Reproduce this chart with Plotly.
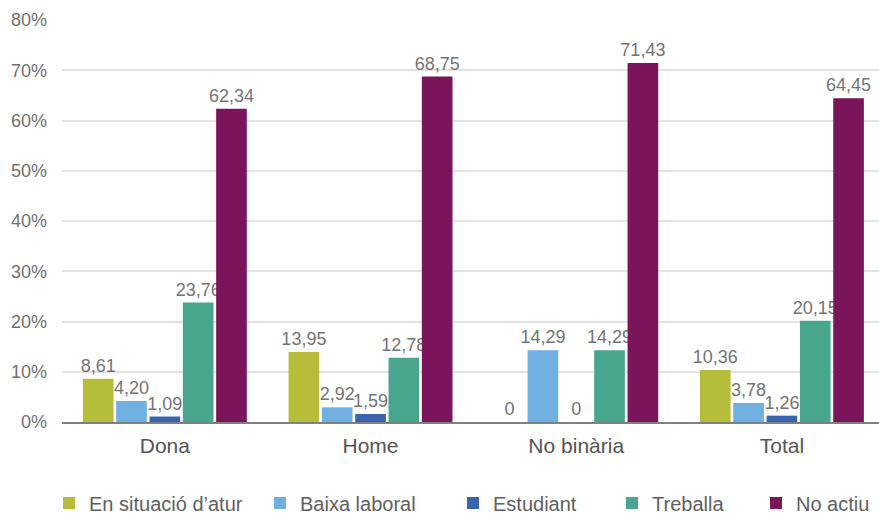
import plotly.graph_objects as go

categories = ["Dona", "Home", "No binària", "Total"]
series_names = ["En situació d’atur", "Baixa laboral", "Estudiant", "Treballa", "No actiu"]
atur = [8.61, 13.95, 0, 10.36]
baixa = [4.20, 2.92, 14.29, 3.78]
estudiant = [1.09, 1.59, 0, 1.26]
treballa = [23.76, 12.78, 14.29, 20.15]
no_actiu = [62.34, 68.75, 71.43, 64.45]
y_ticks = [0, 10, 20, 30, 40, 50, 60, 70, 80]

colors = ["#b5bd3a", "#70b0e0", "#3a62ad", "#48a68f", "#7a155c"]
series_values = [atur, baixa, estudiant, treballa, no_actiu]

W, H = 879, 515
# left edge of each legend entry (px), one legend per series
legend_left_px = [49, 260, 453, 612, 756]
legend_ids = ["legend", "legend2", "legend3", "legend4", "legend5"]


def fmt(v):
    return "0" if v == 0 else f"{v:.2f}".replace(".", ",")


fig = go.Figure()
for name, vals, col, lid in zip(series_names, series_values, colors, legend_ids):
    fig.add_trace(go.Bar(
        name=name,
        x=categories,
        y=vals,
        marker=dict(color=col, line=dict(width=0)),
        text=[fmt(v) for v in vals],
        textposition="outside",
        textfont=dict(family="Liberation Sans", size=18, color="#747474"),
        constraintext="none",
        cliponaxis=False,
        legend=lid,
    ))

legend_common = dict(
    orientation="h",
    xref="container",
    yref="container",
    xanchor="left",
    yanchor="middle",
    y=(H - 503) / H,
    font=dict(size=20, color="#606060"),
    itemsizing="constant",
    itemwidth=30,
    bgcolor="rgba(0,0,0,0)",
)

layout_legends = {
    lid: dict(legend_common, x=px / W) for lid, px in zip(legend_ids, legend_left_px)
}

fig.update_layout(
    width=W,
    height=H,
    margin=dict(l=62, r=0, t=20, b=93),
    paper_bgcolor="white",
    plot_bgcolor="white",
    barmode="group",
    bargap=0.19,
    bargroupgap=0.08,
    font=dict(family="Liberation Sans", color="#666666"),
    xaxis=dict(
        range=[-0.5, 3.472],
        showgrid=False,
        showline=True,
        linecolor="#808080",
        linewidth=2,
        ticks="",
        ticklabelstandoff=4,
        tickfont=dict(size=21, color="#555555"),
    ),
    yaxis=dict(
        range=[0, 80],
        tickvals=y_ticks,
        ticktext=[f"{t}%" for t in y_ticks],
        showgrid=True,
        gridcolor="#e3e3e3",
        gridwidth=1.5,
        zeroline=False,
        showline=False,
        ticks="",
        ticklabelstandoff=14,
        tickfont=dict(size=18, color="#707070"),
    ),
    showlegend=True,
    **layout_legends,
)

fig.write_html("out.html")
